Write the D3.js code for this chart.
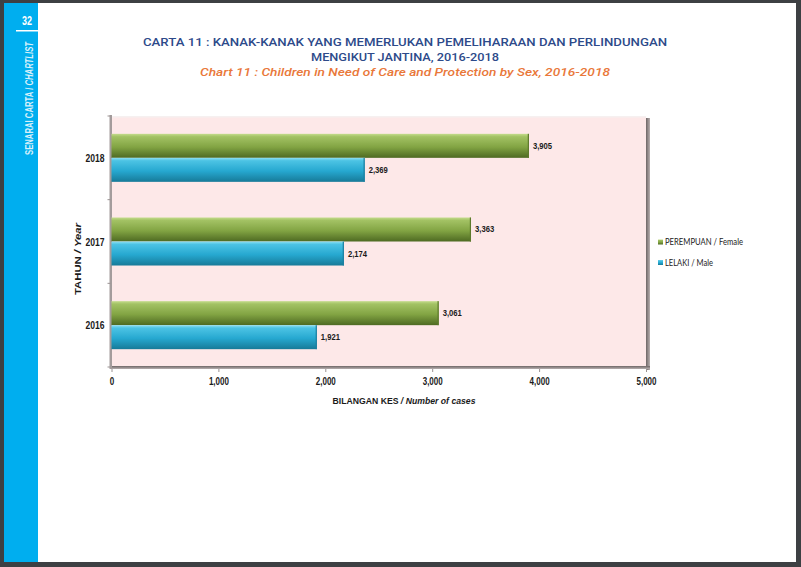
<!DOCTYPE html>
<html><head><meta charset="utf-8">
<script src="https://cdn.jsdelivr.net/npm/d3@7"></script>
<style>
html,body{margin:0;padding:0;background:#fff;}
svg{display:block;}
</style></head>
<body>
<svg id="c" width="801" height="567"></svg>
<script>
const years = ["2016", "2017", "2018"];
const female = [3061, 3363, 3905];
const male = [1921, 2174, 2369];
const xTicks = [0, 1000, 2000, 3000, 4000, 5000];
const seriesNames = ["PEREMPUAN / Female", "LELAKI / Male"];
const titleLines = ["CARTA 11 : KANAK-KANAK YANG MEMERLUKAN PEMELIHARAAN DAN PERLINDUNGAN", "MENGIKUT JANTINA, 2016-2018"];
const subtitle = "Chart 11 :  Children in Need of Care and Protection by Sex, 2016-2018";

const svg = d3.select("#c");
const narrow = "'Liberation Sans Narrow','Arial Narrow','Liberation Sans',Arial,sans-serif";
// approximate rendered width of narrow bold numerals
const numW = (s, dw) => Array.from(s).reduce((a,c)=> a + (c === "," ? dw*0.45 : dw), 0);

// page frame
svg.append("rect").attr("x",0).attr("y",0).attr("width",801).attr("height",567).attr("fill","#3d4043");
svg.append("rect").attr("x",4).attr("y",3).attr("width",792).attr("height",559).attr("fill","#ffffff");
svg.append("rect").attr("x",4).attr("y",3).attr("width",34).attr("height",559).attr("fill","#00aeef");
svg.append("text").attr("x",27).attr("y",24.5).attr("text-anchor","middle")
  .attr("font-family",narrow).attr("font-weight","bold").attr("font-size",12).attr("fill","#fff")
  .attr("textLength",10).attr("lengthAdjust","spacingAndGlyphs").text("32");
svg.append("rect").attr("x",16).attr("y",30).attr("width",22).attr("height",1.5).attr("fill","#fff");
const side = svg.append("text").attr("transform","translate(32.5,155) rotate(-90)")
  .attr("font-family",narrow).attr("font-weight","bold").attr("font-size",10).attr("fill","#d8f1fb")
  .attr("textLength",113).attr("lengthAdjust","spacingAndGlyphs");
side.append("tspan").text("SENARAI CARTA / ");
side.append("tspan").attr("font-style","italic").text("CHARTLIST");

// titles
const titleFont = "Roboto,'DejaVu Sans',sans-serif";
svg.append("text").attr("x",405).attr("y",46).attr("text-anchor","middle")
  .attr("font-family",titleFont).attr("font-weight",500).attr("font-size",11.5).attr("fill","#2d4a8a")
  .attr("textLength",524).attr("lengthAdjust","spacingAndGlyphs").text(titleLines[0]);
svg.append("text").attr("x",405).attr("y",61).attr("text-anchor","middle")
  .attr("font-family",titleFont).attr("font-weight",500).attr("font-size",11.5).attr("fill","#2d4a8a")
  .attr("textLength",188).attr("lengthAdjust","spacingAndGlyphs").text(titleLines[1]);
svg.append("text").attr("x",405).attr("y",76).attr("text-anchor","middle")
  .attr("font-family",titleFont).attr("font-style","italic").attr("font-weight",500).attr("font-size",11.5).attr("fill","#e9783a")
  .attr("textLength",410).attr("lengthAdjust","spacingAndGlyphs").text(subtitle);

// scales
const x = d3.scaleLinear().domain([0, 5000]).range([111.5, 646]);
const y = d3.scaleBand().domain(years.slice().reverse()).range([116, 367]).paddingInner(0.426).paddingOuter(0.213);
const inner = d3.scaleBand().domain(["f","m"]).range([0, y.bandwidth()]);

// gradients
const defs = svg.append("defs");
function grad(id, stops){
  const g = defs.append("linearGradient").attr("id",id).attr("x1",0).attr("y1",0).attr("x2",0).attr("y2",1);
  stops.forEach(s=>g.append("stop").attr("offset",s[0]).attr("stop-color",s[1]));
}
grad("gGreen",[[0,"#c4dc8c"],[0.12,"#a3c264"],[0.55,"#82a443"],[1,"#4e6a22"]]);
grad("gBlue",[[0,"#8fe0f2"],[0.12,"#4cc3e4"],[0.55,"#26a8d0"],[1,"#177a98"]]);
const gShadR = defs.append("linearGradient").attr("id","shR").attr("x1",0).attr("x2",1).attr("y1",0).attr("y2",0);
gShadR.append("stop").attr("offset",0).attr("stop-color","#6e6666");
gShadR.append("stop").attr("offset",1).attr("stop-color","#b8b0b0");
const gShadB = defs.append("linearGradient").attr("id","shB").attr("x1",0).attr("x2",0).attr("y1",0).attr("y2",1);
gShadB.append("stop").attr("offset",0).attr("stop-color","#6e6666");
gShadB.append("stop").attr("offset",1).attr("stop-color","#b8b0b0");

// plot background with 3D shadow
const [x0, x1] = x.range();
const [y0, y1] = y.range();
svg.append("rect").attr("x",x1).attr("y",y0+2).attr("width",4).attr("height",y1-y0+1).attr("fill","url(#shR)");
svg.append("rect").attr("x",x0).attr("y",y1-1).attr("width",x1-x0+4).attr("height",3).attr("fill","url(#shB)");
svg.append("rect").attr("x",x0).attr("y",y0).attr("width",x1-x0).attr("height",y1-y0-1).attr("fill","#fde8e8");
svg.append("rect").attr("x",x0).attr("y",y0).attr("width",x1-x0).attr("height",1.5).attr("fill","#f6f0f0");
// left wall
svg.append("rect").attr("x",x0-2).attr("y",y0-1).attr("width",2.5).attr("height",y1-y0+3).attr("fill","#a49c9c");

// left ticks at band boundaries
const bounds = [y0].concat(years.map((d,i)=>y0 + y.step()*(i+1)));
svg.append("g").selectAll("line").data(bounds).join("line")
  .attr("x1",x0-4).attr("x2",x0-1).attr("y1",d=>d).attr("y2",d=>d).attr("stroke","#9a9292").attr("stroke-width",1);

// bars
const rows = years.map((yr,i)=>({yr, f: female[i], m: male[i]}));
const g = svg.append("g");
rows.forEach(r=>{
  [["f", r.f, "url(#gGreen)"],["m", r.m, "url(#gBlue)"]].forEach(([k,v,fill])=>{
    const by = y(r.yr) + inner(k);
    g.append("rect").attr("x",x(0)).attr("y",by).attr("width",x(v)-x(0)).attr("height",inner.bandwidth())
      .attr("fill",fill);
    g.append("rect").attr("x",x(v)-1.2).attr("y",by).attr("width",1.2).attr("height",inner.bandwidth())
      .attr("fill", k==="f" ? "#5d7a2c" : "#1c7fa0");
    const lbl = d3.format(",")(v);
    g.append("text").attr("x",x(v)+4).attr("y",by+inner.bandwidth()/2+3)
      .attr("font-family",narrow).attr("font-weight","bold").attr("font-size",9).attr("fill","#1a1a1a")
      .attr("textLength",numW(lbl,4.3)).attr("lengthAdjust","spacingAndGlyphs")
      .text(lbl);
  });
});

// x axis
const xAxis = svg.append("g").attr("transform",`translate(0,${y1+2})`)
  .call(d3.axisBottom(x).tickValues(xTicks).tickFormat(d3.format(",")).tickSize(3).tickSizeOuter(0));
xAxis.select(".domain").remove();
xAxis.selectAll(".tick line").attr("stroke","#9a9292");
xAxis.selectAll(".tick text").attr("font-family",narrow).attr("font-weight","bold").attr("font-size",10)
  .attr("fill","#1a1a1a").attr("dy",0).attr("y",16)
  .attr("textLength",d=>numW(d3.format(",")(d),4.5)).attr("lengthAdjust","spacingAndGlyphs");

// y labels
svg.append("g").selectAll("text").data(years).join("text")
  .attr("x",95).attr("y",d=>y(d)+y.bandwidth()/2+4).attr("text-anchor","middle")
  .attr("font-family",narrow).attr("font-weight","bold").attr("font-size",11).attr("fill","#1a1a1a")
  .attr("textLength",19).attr("lengthAdjust","spacingAndGlyphs").text(d=>d);

// axis titles
const xt = svg.append("text").attr("x",404).attr("y",404).attr("text-anchor","middle")
  .attr("font-family","'Liberation Sans',Arial,sans-serif").attr("font-weight","bold").attr("font-size",9.5).attr("fill","#1a1a1a")
  .attr("textLength",143).attr("lengthAdjust","spacingAndGlyphs");
xt.append("tspan").text("BILANGAN KES ");
xt.append("tspan").attr("font-style","italic").text("/ Number of cases");
const yt = svg.append("text").attr("transform","translate(80.5,259) rotate(-90)").attr("text-anchor","middle")
  .attr("font-family","'Liberation Sans',Arial,sans-serif").attr("font-weight","bold").attr("font-size",9.5).attr("fill","#1a1a1a")
  .attr("textLength",72).attr("lengthAdjust","spacingAndGlyphs");
yt.append("tspan").text("TAHUN ");
yt.append("tspan").attr("font-style","italic").text("/ Year");

// legend
const leg = svg.append("g");
const legFill = ["url(#gGreen)","url(#gBlue)"];
const legW = [78, 48];
seriesNames.forEach((n,i)=>{
  const ly = 242 + i*20.5;
  leg.append("rect").attr("x",658).attr("y",ly-2.5).attr("width",5).attr("height",5).attr("fill",legFill[i]);
  leg.append("text").attr("x",665).attr("y",ly+3).attr("font-family","Lato,'Open Sans',sans-serif")
    .attr("font-size",9).attr("fill","#222")
    .attr("textLength",legW[i]).attr("lengthAdjust","spacingAndGlyphs").text(n);
});
</script>
</body></html>
